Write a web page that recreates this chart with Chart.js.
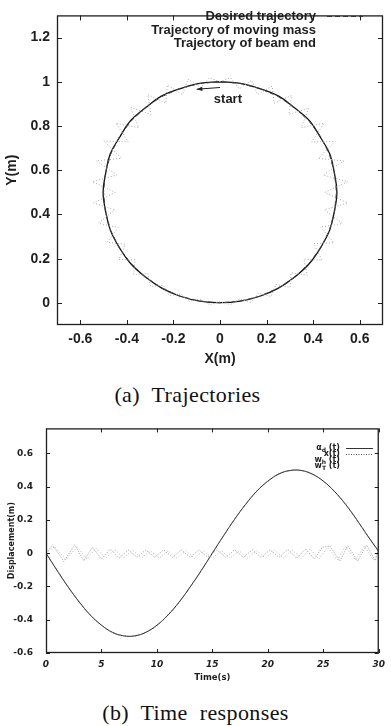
<!DOCTYPE html>
<html><head><meta charset="utf-8">
<script src="https://cdn.jsdelivr.net/npm/chart.js@4/dist/chart.umd.min.js"></script>
<style>
html,body{margin:0;padding:0;background:#fff;width:391px;height:726px;overflow:hidden;position:relative}
.cv{position:absolute;left:0}
.cap{position:absolute;left:0;width:391px;text-align:center;font-family:"Liberation Serif","Times New Roman",serif;font-size:22px;color:#111;word-spacing:6px;letter-spacing:0.4px;line-height:24px}
</style></head><body>
<div class="cv" style="top:0;width:391px;height:370px"><canvas id="c1"></canvas></div>
<div class="cap" id="capA" style="top:383px;width:375px">(a) Trajectories</div>
<div class="cv" style="top:410px;width:391px;height:285px"><canvas id="c2"></canvas></div>
<div class="cap" id="capB" style="top:701px">(b) Time responses</div>
<script>
// ---------- (a) Trajectories ----------
const DES_X = [0,-0.087,-0.171,-0.25,-0.321,-0.383,-0.433,-0.47,-0.492,-0.5,-0.492,-0.47,-0.433,-0.383,-0.321,-0.25,-0.171,-0.087,0,0.087,0.171,0.25,0.321,0.383,0.433,0.47,0.492,0.5,0.492,0.47,0.433,0.383,0.321,0.25,0.171,0.087,0];
const DES_Y = [1,0.992,0.97,0.933,0.883,0.821,0.75,0.671,0.587,0.5,0.413,0.329,0.25,0.179,0.117,0.067,0.03,0.008,0,0.008,0.03,0.067,0.117,0.179,0.25,0.329,0.413,0.5,0.587,0.671,0.75,0.821,0.883,0.933,0.97,0.992,1];
const MASS_X = [0,-0.088,-0.17,-0.252,-0.32,-0.385,-0.431,-0.472,-0.491,-0.502,-0.491,-0.471,-0.432,-0.384,-0.32,-0.25,-0.171,-0.087,0,0.087,0.171,0.251,0.321,0.384,0.432,0.471,0.491,0.502,0.491,0.472,0.431,0.385,0.32,0.252,0.17,0.088,0];
const MASS_Y = [1,0.993,0.969,0.935,0.882,0.823,0.749,0.672,0.586,0.5,0.413,0.329,0.25,0.178,0.117,0.067,0.03,0.008,0.001,0.008,0.03,0.067,0.117,0.178,0.25,0.329,0.413,0.5,0.587,0.672,0.749,0.823,0.882,0.935,0.969,0.993,1];
const BEAM_X = [0,-0.045,-0.083,-0.137,-0.161,-0.226,-0.233,-0.31,-0.296,-0.385,-0.349,-0.447,-0.394,-0.499,-0.423,-0.531,-0.443,-0.548,-0.45,-0.543,-0.453,-0.522,-0.437,-0.485,-0.407,-0.434,-0.364,-0.371,-0.309,-0.298,-0.243,-0.218,-0.168,-0.132,-0.085,-0.045,0,0.045,0.085,0.133,0.166,0.22,0.24,0.301,0.305,0.375,0.36,0.438,0.403,0.489,0.432,0.526,0.448,0.548,0.45,0.548,0.443,0.531,0.423,0.494,0.394,0.447,0.349,0.382,0.296,0.307,0.233,0.224,0.161,0.136,0.083,0.045,0];
const BEAM_Y = [1,1.018,0.973,1.012,0.942,0.985,0.903,0.942,0.852,0.885,0.792,0.813,0.728,0.732,0.654,0.642,0.578,0.548,0.5,0.452,0.42,0.36,0.341,0.274,0.265,0.196,0.195,0.129,0.132,0.074,0.08,0.033,0.04,0.007,0.017,-0.008,0.005,-0.008,0.017,0.003,0.044,0.029,0.084,0.07,0.136,0.125,0.198,0.193,0.268,0.272,0.343,0.359,0.421,0.452,0.5,0.548,0.578,0.642,0.654,0.73,0.728,0.813,0.792,0.882,0.852,0.938,0.903,0.98,0.942,1.007,0.968,1.018,1];
const TRAJ_LABELS = ["Desired trajectory","Trajectory of moving mass","Trajectory of beam end"];
const X_TICKS_A = [-0.6,-0.4,-0.2,0,0.2,0.4,0.6];
const Y_TICKS_A = [0,0.2,0.4,0.6,0.8,1,1.2];
const START_TEXT = "start";
const START_POS = [0.034, 0.919];
const ARROW_FROM = [0.0, 0.974];
const ARROW_TO = [-0.1, 0.966];

// ---------- (b) Time responses ----------
const TIME = [0,1,2,3,4,5,6,7,8,9,10,11,12,13,14,15,16,17,18,19,20,21,22,23,24,25,26,27,28,29,30];
const ALPHA_D = [0,-0.104,-0.203,-0.294,-0.372,-0.433,-0.476,-0.497,-0.497,-0.476,-0.433,-0.372,-0.294,-0.203,-0.104,0,0.104,0.203,0.294,0.372,0.433,0.476,0.497,0.497,0.476,0.433,0.372,0.294,0.203,0.104,0.01];
const X_T = [0,-0.102,-0.205,-0.292,-0.374,-0.431,-0.478,-0.496,-0.498,-0.474,-0.435,-0.37,-0.296,-0.201,-0.106,0.002,0.102,0.205,0.292,0.374,0.431,0.478,0.496,0.498,0.474,0.435,0.37,0.296,0.201,0.106,0.012];
const WH_T = [0,0.6,1.6,2.6,3.4,4.2,5.0,5.8,6.6,7.4,8.2,9.0,9.8,10.6,11.4,12.2,13.0,13.8,14.6,15.4,16.2,17.0,17.8,18.6,19.4,20.2,21.0,21.8,22.6,23.4,24.2,24.9,25.6,26.5,27.2,28.1,28.9,29.7,30];
const WH_V = [0,0.05,-0.05,0.05,-0.045,0.035,-0.035,0.025,-0.03,0.02,-0.025,0.02,-0.025,0.02,-0.025,0.02,-0.025,0.02,-0.025,0.02,-0.025,0.02,-0.025,0.02,-0.025,0.02,-0.025,0.022,-0.03,0.025,-0.035,0.035,0.043,-0.047,0.045,-0.047,0.048,-0.045,0.03];
const WT_T = [0,0.8,1.8,2.8,3.7,4.5,5.4,6.2,7.0,7.8,8.6,9.4,10.2,11.0,11.8,12.6,13.4,14.2,15.0,15.8,16.6,17.4,18.2,19.0,19.8,20.6,21.4,22.2,23.0,23.8,24.6,25.4,26.3,27.0,27.9,28.7,29.5,30];
const WT_V = [0,0.04,-0.04,0.038,-0.035,0.03,-0.03,0.022,-0.028,0.018,-0.03,0.015,-0.03,0.015,-0.03,0.015,-0.03,0.015,-0.03,0.015,-0.03,0.015,-0.03,0.015,-0.03,0.018,-0.03,0.02,-0.032,0.025,-0.035,0.035,-0.04,0.04,-0.042,0.042,-0.04,0.0];
const RESP_LABELS = [["α","d"," (t)"],["x(t)","",""],["w","h"," (t)"],["w","T"," (t)"]];
const X_TICKS_B = [0,5,10,15,20,25,30];
const Y_TICKS_B = [-0.6,-0.4,-0.2,0,0.2,0.4,0.6];

const fmt = v => String(+Number(v).toFixed(2));
const pts = (xs, ys) => xs.map((x, i) => ({x, y: ys[i]}));
const INK = '#1e1e1e';

// frame + inward tick marks
const framePlugin = {
  id: 'frame',
  afterDatasetsDraw(chart, args, opts) {
    const {ctx, chartArea: a, scales} = chart;
    ctx.save();
    ctx.strokeStyle = INK; ctx.lineWidth = 1.3;
    ctx.strokeRect(a.left + 0.5, a.top + 0.5, a.right - a.left - 1, a.bottom - a.top - 1);
    const L = opts.len || 5;
    ctx.lineWidth = 1;
    ctx.beginPath();
    scales.x.ticks.forEach(t => {
      const p = Math.round(scales.x.getPixelForValue(t.value)) + 0.5;
      ctx.moveTo(p, a.bottom); ctx.lineTo(p, a.bottom - L);
      ctx.moveTo(p, a.top); ctx.lineTo(p, a.top + L);
    });
    scales.y.ticks.forEach(t => {
      const p = Math.round(scales.y.getPixelForValue(t.value)) + 0.5;
      ctx.moveTo(a.left, p); ctx.lineTo(a.left + L, p);
      ctx.moveTo(a.right, p); ctx.lineTo(a.right - L, p);
    });
    ctx.stroke();
    ctx.restore();
  }
};

// legend + annotation for (a)
const annoA = {
  id: 'annoA',
  afterDatasetsDraw(chart) {
    const {ctx, scales: {x, y}} = chart;
    ctx.save();
    ctx.fillStyle = INK;
    ctx.font = 'bold 13px "Liberation Sans", Arial, sans-serif';
    ctx.textAlign = 'right'; ctx.textBaseline = 'middle';
    const rows = [16, 30, 43];
    TRAJ_LABELS.forEach((t, i) => ctx.fillText(t, 316, rows[i]));
    ctx.strokeStyle = '#333'; ctx.lineWidth = 1; ctx.setLineDash([5, 3]);
    ctx.beginPath(); ctx.moveTo(327, 16.5); ctx.lineTo(363, 16.5); ctx.stroke();
    ctx.setLineDash([]);
    // start arrow
    const fx = x.getPixelForValue(ARROW_FROM[0]), fy = y.getPixelForValue(ARROW_FROM[1]);
    const tx = x.getPixelForValue(ARROW_TO[0]), ty = y.getPixelForValue(ARROW_TO[1]);
    ctx.strokeStyle = INK; ctx.lineWidth = 1;
    ctx.beginPath(); ctx.moveTo(fx, fy); ctx.lineTo(tx, ty); ctx.stroke();
    const ang = Math.atan2(ty - fy, tx - fx);
    ctx.beginPath();
    ctx.moveTo(tx, ty);
    ctx.lineTo(tx - 6 * Math.cos(ang - 0.35), ty - 6 * Math.sin(ang - 0.35));
    ctx.lineTo(tx - 6 * Math.cos(ang + 0.35), ty - 6 * Math.sin(ang + 0.35));
    ctx.closePath(); ctx.fill();
    ctx.textAlign = 'center';
    ctx.fillText(START_TEXT, x.getPixelForValue(START_POS[0]), y.getPixelForValue(START_POS[1]));
    ctx.restore();
  }
};

// legend for (b)
const legB = {
  id: 'legB',
  afterDatasetsDraw(chart) {
    const {ctx} = chart;
    ctx.save();
    ctx.fillStyle = INK;
    const base = 'bold 8px "DejaVu Sans", sans-serif', small = 'bold 6px "DejaVu Sans", sans-serif';
    const rows = [448, 454, 460, 466].map(v => v - 410);
    const right = 340;
    ctx.textBaseline = 'middle'; ctx.textAlign = 'left';
    RESP_LABELS.forEach((parts, i) => {
      ctx.font = base; const w0 = ctx.measureText(parts[0]).width;
      ctx.font = small; const w1 = ctx.measureText(parts[1]).width;
      ctx.font = base; const w2 = ctx.measureText(parts[2]).width;
      let xx = right - (w0 + w1 + w2);
      ctx.font = base; ctx.fillText(parts[0], xx, rows[i]); xx += w0;
      ctx.font = small; ctx.fillText(parts[1], xx, rows[i] + 2); xx += w1;
      ctx.font = base; ctx.fillText(parts[2], xx, rows[i]);
    });
    ctx.strokeStyle = '#333'; ctx.lineWidth = 1;
    ctx.beginPath(); ctx.moveTo(346, rows[0] + 0.5); ctx.lineTo(373, rows[0] + 0.5); ctx.stroke();
    ctx.setLineDash([1, 1.5]); ctx.strokeStyle = '#555';
    ctx.beginPath(); ctx.moveTo(346, rows[1] + 0.5); ctx.lineTo(373, rows[1] + 0.5); ctx.stroke();
    ctx.restore();
  }
};

Chart.defaults.animation = false;
Chart.defaults.color = INK;

const tickSet = list => (s) => { s.ticks = list.map(v => ({value: v})); };

new Chart(document.getElementById('c1'), {
  type: 'scatter',
  data: {
    datasets: [
      {label: TRAJ_LABELS[2], data: pts(BEAM_X, BEAM_Y), showLine: true, borderColor: '#a8a8a8', borderWidth: 1, borderDash: [1, 2], pointRadius: 0, tension: 0},
      {label: TRAJ_LABELS[0], data: pts(DES_X, DES_Y), showLine: true, borderColor: '#444', borderWidth: 1, borderDash: [5, 3], pointRadius: 0, tension: 0},
      {label: TRAJ_LABELS[1], data: pts(MASS_X, MASS_Y), showLine: true, borderColor: '#111', borderWidth: 1.3, pointRadius: 0, tension: 0.4}
    ]
  },
  options: {
    responsive: true, maintainAspectRatio: false,
    layout: {padding: {left: 0, right: 8, top: 5, bottom: 0}},
    plugins: {legend: {display: false}, tooltip: {enabled: false}, frame: {len: 5}},
    scales: {
      x: {type: 'linear', min: -0.7, max: 0.7,
        afterBuildTicks: tickSet(X_TICKS_A),
        afterFit: s => { s.height = 45; },
        grid: {display: false, drawTicks: false}, border: {display: false},
        ticks: {padding: 6, maxRotation: 0, callback: fmt, font: {family: '"Liberation Sans", Arial, sans-serif', size: 14, weight: 'bold'}, color: INK},
        title: {display: true, text: 'X(m)', padding: {top: 0, bottom: 2}, font: {family: '"Liberation Sans", Arial, sans-serif', size: 14, weight: 'bold'}, color: INK}},
      y: {type: 'linear', min: -0.1, max: 1.3,
        afterBuildTicks: tickSet(Y_TICKS_A),
        afterFit: s => { s.width = 57; },
        grid: {display: false, drawTicks: false}, border: {display: false},
        ticks: {padding: 7, callback: fmt, font: {family: '"Liberation Sans", Arial, sans-serif', size: 14, weight: 'bold'}, color: INK},
        title: {display: true, text: 'Y(m)', padding: {top: 4, bottom: 0}, font: {family: '"Liberation Sans", Arial, sans-serif', size: 14, weight: 'bold'}, color: INK}}
    }
  },
  plugins: [framePlugin, annoA]
});

new Chart(document.getElementById('c2'), {
  type: 'scatter',
  data: {
    datasets: [
      {label: 'wT(t)', data: pts(WT_T, WT_V), showLine: true, borderColor: '#b4b4b4', borderWidth: 1, borderDash: [1, 2], pointRadius: 0, tension: 0},
      {label: 'wh(t)', data: pts(WH_T, WH_V), showLine: true, borderColor: '#999', borderWidth: 1, borderDash: [1, 1.5], pointRadius: 0, tension: 0},
      {label: 'x(t)', data: pts(TIME, X_T), showLine: true, borderColor: '#666', borderWidth: 1, borderDash: [1, 1.5], pointRadius: 0, tension: 0.4},
      {label: 'αd(t)', data: pts(TIME, ALPHA_D), showLine: true, borderColor: '#222', borderWidth: 1, pointRadius: 0, tension: 0.4}
    ]
  },
  options: {
    responsive: true, maintainAspectRatio: false,
    layout: {padding: {left: 0, right: 6, top: 11, bottom: 0}},
    plugins: {legend: {display: false}, tooltip: {enabled: false}, frame: {len: 4}},
    scales: {
      x: {type: 'linear', min: 0, max: 30,
        afterBuildTicks: tickSet(X_TICKS_B),
        afterFit: s => { s.height = 42; },
        grid: {display: false, drawTicks: false}, border: {display: false},
        ticks: {padding: 6, maxRotation: 0, callback: fmt, font: {family: '"DejaVu Sans", sans-serif', size: 9, weight: 'bold', style: 'italic'}, color: INK},
        title: {display: true, text: 'Time(s)', padding: {top: 0, bottom: 12}, font: {family: '"DejaVu Sans", sans-serif', size: 8.5, weight: 'bold'}, color: INK}},
      y: {type: 'linear', min: -0.6, max: 0.75,
        afterBuildTicks: tickSet(Y_TICKS_B),
        afterFit: s => { s.width = 46; },
        grid: {display: false, drawTicks: false}, border: {display: false},
        ticks: {padding: 13, callback: fmt, font: {family: '"DejaVu Sans", sans-serif', size: 9, weight: 'bold'}, color: INK},
        title: {display: true, text: 'Displacement(m)', padding: {top: 7, bottom: 0}, font: {family: '"DejaVu Sans", sans-serif', size: 8, weight: 'bold'}, color: INK}}
    }
  },
  plugins: [framePlugin, legB]
});
</script>
</body></html>
